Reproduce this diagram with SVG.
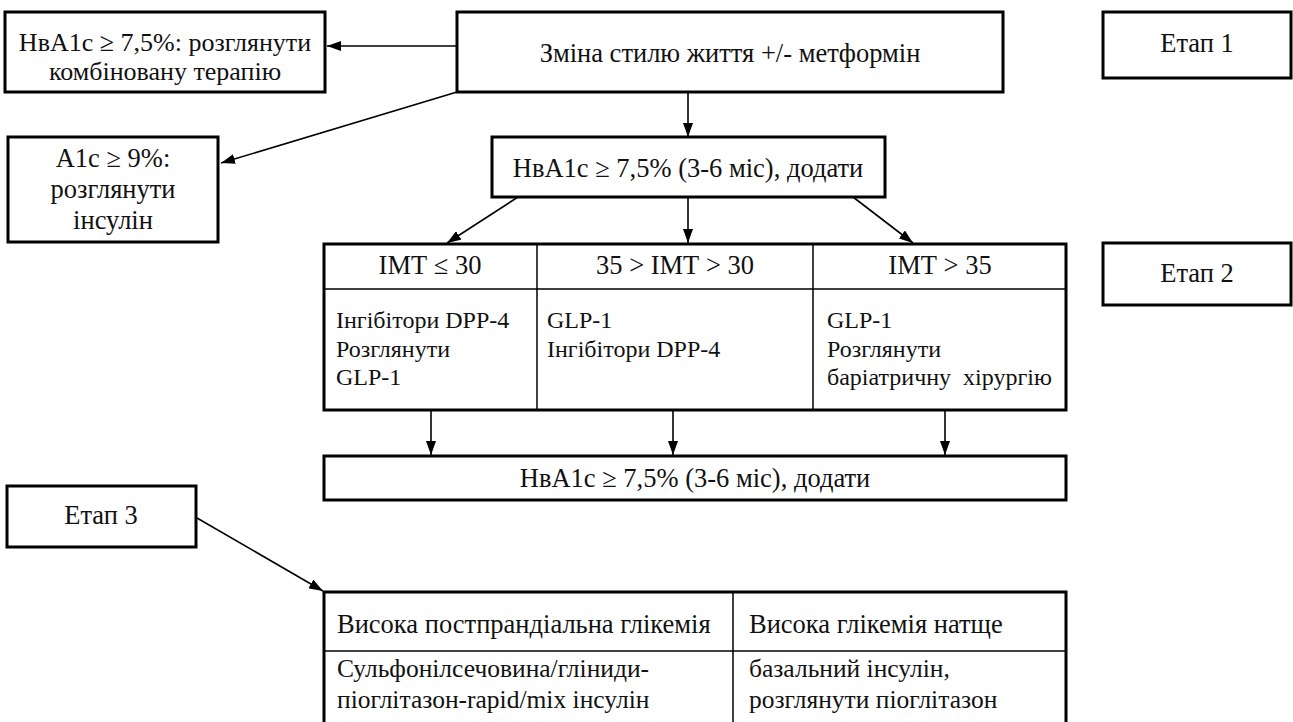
<svg xmlns="http://www.w3.org/2000/svg" width="1293" height="722" viewBox="0 0 1293 722">
<style>
.box{fill:#fff;stroke:#000;stroke-width:3}
.in{stroke:#000;stroke-width:1.5;fill:none}
text{font-family:'Liberation Serif','Times New Roman',serif;font-size:26.5px;fill:#111}
.s{font-size:24px}
.m{font-size:25.5px}
.c{text-anchor:middle}
.con{stroke:#000;stroke-width:1.6;fill:none;marker-end:url(#ah)}
</style>
<defs>
<marker id="ah" viewBox="0 0 14 10" refX="14" refY="5" markerWidth="14" markerHeight="10" markerUnits="userSpaceOnUse" orient="auto">
<path d="M0,0 L14,5 L0,10 Z" fill="#000"/>
</marker>
</defs>
<rect width="1293" height="722" fill="#fff"/>
<g id="connectors">
<line class="con" x1="457" y1="46" x2="327" y2="46"/>
<line class="con" x1="457" y1="92" x2="221" y2="163"/>
<line class="con" x1="688" y1="92" x2="688" y2="137"/>
<line class="con" x1="518" y1="197" x2="447" y2="243"/>
<line class="con" x1="688" y1="197" x2="688" y2="243"/>
<line class="con" x1="853" y1="197" x2="913" y2="243"/>
<line class="con" x1="431" y1="410" x2="431" y2="455"/>
<line class="con" x1="673" y1="410" x2="673" y2="455"/>
<line class="con" x1="945" y1="410" x2="945" y2="455"/>
<line class="con" x1="197" y1="518" x2="323" y2="591"/>
</g>
<g id="combo">
<rect class="box" x="5" y="12" width="320" height="80"/>
<text class="c" x="165" y="51" style="font-size:26px">НвА1с ≥ 7,5%: розглянути</text>
<text class="c" x="165" y="80" style="font-size:26px">комбіновану терапію</text>
</g>
<g id="insulin">
<rect class="box" x="8" y="137" width="210" height="105"/>
<text class="c" x="113" y="167">А1с ≥ 9%:</text>
<text class="c" x="113" y="198">розглянути</text>
<text class="c" x="113" y="229">інсулін</text>
</g>
<g id="lifestyle">
<rect class="box" x="457" y="12" width="546" height="80"/>
<text class="c" x="730" y="62">Зміна стилю життя +/- метформін</text>
</g>
<g id="hba1c1">
<rect class="box" x="492" y="137" width="393" height="60"/>
<text class="c" x="688" y="177">НвА1с ≥ 7,5% (3-6 міс), додати</text>
</g>
<g id="stage1">
<rect class="box" x="1103" y="12" width="188" height="66"/>
<text class="c" x="1197" y="52">Етап 1</text>
</g>
<g id="stage2">
<rect class="box" x="1103" y="243" width="188" height="62"/>
<text class="c" x="1197" y="282">Етап 2</text>
</g>
<g id="bmi-table">
<rect class="box" x="324" y="244" width="742" height="166"/>
<line class="in" x1="324" y1="289" x2="1066" y2="289"/>
<line class="in" x1="537" y1="244" x2="537" y2="410"/>
<line class="in" x1="813" y1="244" x2="813" y2="410"/>
<text class="c" x="430" y="274">ІМТ ≤ 30</text>
<text class="c" x="675" y="274">35 &gt; ІМТ &gt; 30</text>
<text class="c" x="940" y="274">ІМТ &gt; 35</text>
<text class="s" x="336" y="328">Інгібітори DPP-4</text>
<text class="s" x="336" y="357">Розглянути</text>
<text class="s" x="336" y="385">GLP-1</text>
<text class="s" x="547" y="328">GLP-1</text>
<text class="s" x="547" y="357">Інгібітори DPP-4</text>
<text class="s" x="827" y="328">GLP-1</text>
<text class="s" x="827" y="357">Розглянути</text>
<text class="s" x="827" y="385" xml:space="preserve">баріатричну  хірургію</text>
</g>
<g id="hba1c2">
<rect class="box" x="324" y="456" width="742" height="44"/>
<text class="c" x="695" y="487">НвА1с ≥ 7,5% (3-6 міс), додати</text>
</g>
<g id="stage3">
<rect class="box" x="7" y="486" width="189" height="61"/>
<text class="c" x="101" y="524">Етап 3</text>
</g>
<g id="glycemia-table">
<path class="box" d="M324,724 V592 H1066 V724"/>
<line class="in" x1="324" y1="651" x2="1066" y2="651"/>
<line class="in" x1="733" y1="592" x2="733" y2="724"/>
<text x="337" y="633">Висока постпрандіальна глікемія</text>
<text x="749" y="633">Висока глікемія натще</text>
<text class="m" x="337" y="677">Сульфонілсечовина/гліниди-</text>
<text class="m" x="337" y="708">піоглітазон-rapid/mix інсулін</text>
<text class="m" x="749" y="677">базальний інсулін,</text>
<text class="m" x="749" y="708">розглянути піоглітазон</text>
</g>
</svg>
